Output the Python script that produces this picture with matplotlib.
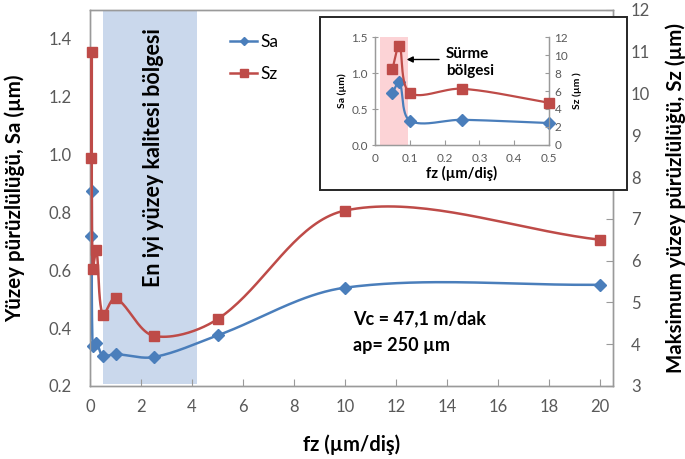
import numpy as np
import matplotlib
matplotlib.use("Agg")
import matplotlib.pyplot as plt
from matplotlib.lines import Line2D
from matplotlib.patches import Rectangle

plt.rcParams['font.family'] = ['Lato', 'DejaVu Sans']

# ---- data ----
fz = [0.05, 0.07, 0.1, 0.25, 0.5, 1, 2.5, 5, 10, 20]
sa = [0.72, 0.875, 0.34, 0.35, 0.305, 0.31, 0.30, 0.375, 0.54, 0.55]
sz = [8.45, 11.0, 5.8, 6.25, 4.7, 5.1, 4.2, 4.6, 7.2, 6.5]
inset_n = 5  # first five feeds shown in the inset

main_xticks = [0, 2, 4, 6, 8, 10, 12, 14, 16, 18, 20]
sa_ticks = [0.2, 0.4, 0.6, 0.8, 1.0, 1.2, 1.4]
sz_ticks = [3, 4, 5, 6, 7, 8, 9, 10, 11, 12]
in_xticks = [0, 0.1, 0.2, 0.3, 0.4, 0.5]
in_sa_ticks = [0.0, 0.5, 1.0, 1.5]
in_sz_ticks = [0, 2, 4, 6, 8, 10, 12]
best_zone = (0.5, 4.2)
slide_zone = (0.015, 0.095)

BLUE = '#4a7ebb'
RED = '#be4b48'
GRAY = '#595959'
SPINE = '#9a9a9a'


def excel_smooth(ax, x, y, n=40):
    pts = ax.transData.transform(np.column_stack([x, y]))
    P = np.vstack([pts[0], pts, pts[-1]])
    segs = []
    t = np.linspace(0, 1, n)[:, None]
    for i in range(1, len(P) - 2):
        p0, p1, p2, p3 = P[i - 1], P[i], P[i + 1], P[i + 2]
        d01 = np.hypot(*(p1 - p0))
        d12 = np.hypot(*(p2 - p1))
        d23 = np.hypot(*(p3 - p2))
        f1 = d12 / (d01 + d12) if d01 + d12 > 0 else 0.5
        f2 = d12 / (d12 + d23) if d12 + d23 > 0 else 0.5
        c1 = p1 + (p2 - p0) * f1 / 3.0
        c2 = p2 - (p3 - p1) * f2 / 3.0
        seg = (1 - t) ** 3 * p1 + 3 * (1 - t) ** 2 * t * c1 + 3 * (1 - t) * t ** 2 * c2 + t ** 3 * p2
        segs.append(seg)
    curve = np.vstack(segs)
    d = ax.transData.inverted().transform(curve)
    return d[:, 0], d[:, 1]


fig = plt.figure(figsize=(6.85, 4.59), dpi=100)
W, H = 685, 459
ax = fig.add_axes([90 / W, 1 - 386 / H, (613 - 90) / W, (386 - 10) / H])
ax2 = ax.twinx()

ax.set_xlim(0, 20.5)
ax.set_ylim(0.2, 1.5)
ax2.set_ylim(3, 12)

ax.set_xticks(main_xticks)
ax.set_yticks(sa_ticks)
ax.set_yticklabels([f'{v:.1f}' for v in sa_ticks])
ax2.set_yticks(sz_ticks)

for a in (ax, ax2):
    for s in a.spines.values():
        s.set_color(SPINE)
        s.set_linewidth(1.0)
ax.tick_params(axis='x', direction='in', length=5, color=SPINE, labelsize=12,
               labelcolor=GRAY, pad=9, top=False)
ax.tick_params(axis='y', length=0, labelsize=12, labelcolor=GRAY, pad=13)
ax2.tick_params(axis='y', direction='in', length=5, color=SPINE, labelsize=12,
                labelcolor=GRAY, pad=13)

ax.axvspan(best_zone[0], best_zone[1], ymin=0.005, ymax=1, color='#cad8ec', lw=0, zorder=0)

sx, sy = excel_smooth(ax, fz, sa)
ax.plot(sx, sy, color=BLUE, lw=1.8, zorder=3, clip_on=False)
ax.plot(fz, sa, ls='none', marker='D', ms=6, color=BLUE, zorder=4, clip_on=False)
zx, zy = excel_smooth(ax2, fz, sz)
ax2.plot(zx, zy, color=RED, lw=1.8, zorder=3, clip_on=False)
ax2.plot(fz, sz, ls='none', marker='s', ms=7.8, color=RED, zorder=4, clip_on=False)

ax.set_xlabel('fz (µm/diş)', fontsize=14.5, fontweight='bold')
ax.xaxis.set_label_coords(0.5, -0.13)
ax.set_ylabel('Yüzey pürüzlülüğü, Sa (µm)', fontsize=14.8, fontweight='bold')
ax.yaxis.set_label_coords(-0.124, 0.5)
ax2.set_ylabel('Maksimum yüzey pürüzlülüğü, Sz (µm)', fontsize=14.8, fontweight='bold')
ax2.yaxis.set_label_coords(1.100, 0.5)

ax.text(2.47, 0.99, 'En iyi yüzey kalitesi bölgesi', rotation=90, ha='center', va='center',
        fontsize=15.5, fontweight='bold', zorder=5)
ax.text(10.3, 0.434, 'Vc = 47,1 m/dak', fontsize=13, fontweight='bold', va='center')
ax.text(10.3, 0.340, 'ap= 250 µm', fontsize=13, fontweight='bold', va='center')

handles = [Line2D([], [], color=BLUE, lw=1.8, marker='D', ms=4.5),
           Line2D([], [], color=RED, lw=1.8, marker='s', ms=6)]
leg = ax2.legend(handles, ['Sa', 'Sz'], loc='center left', frameon=False, fontsize=12.5,
                 handlelength=1.6, handletextpad=0.2, labelspacing=0.9,
                 bbox_to_anchor=(214 / W, 1 - 58 / H), bbox_transform=fig.transFigure)

# ---- inset ----
box = Rectangle((320 / W, 1 - 190 / H), (627 - 320) / W, (190 - 17) / H,
                transform=fig.transFigure, facecolor='white', edgecolor='#262626',
                lw=1.4, zorder=5)
fig.patches.append(box)

ia = fig.add_axes([375 / W, 1 - 145 / H, (549 - 375) / W, (145 - 37) / H])
ia.set_zorder(6)
ia2 = ia.twinx()
ia2.set_zorder(7)
ia.set_xlim(0, 0.5)
ia.set_ylim(0, 1.5)
ia2.set_ylim(0, 12)
ia.set_xticks(in_xticks)
ia.set_xticklabels(['0'] + [f'{v:.1f}' for v in in_xticks[1:]])
ia.set_yticks(in_sa_ticks)
ia.set_yticklabels([f'{v:.1f}' for v in in_sa_ticks])
ia2.set_yticks(in_sz_ticks)
for a in (ia, ia2):
    for s in a.spines.values():
        s.set_color(SPINE)
        s.set_linewidth(0.9)
    a.spines['top'].set_visible(False)
ia.tick_params(axis='x', direction='in', length=3.5, color=SPINE, labelsize=8.5,
               labelcolor=GRAY, pad=6)
ia.tick_params(axis='y', direction='inout', length=4, color=SPINE, labelsize=8.5,
               labelcolor=GRAY, pad=3)
ia2.tick_params(axis='y', direction='in', length=3, color=SPINE, labelsize=8.5,
                labelcolor=GRAY, pad=4)

ia.axvspan(slide_zone[0], slide_zone[1], color='#fcd3d6', lw=0, zorder=0)

ix, iy = excel_smooth(ia, fz[:inset_n], sa[:inset_n])
ia.plot(ix, iy, color=BLUE, lw=1.6, zorder=3, clip_on=False)
ia.plot(fz[:inset_n], sa[:inset_n], ls='none', marker='D', ms=6, color=BLUE, zorder=4, clip_on=False)
jx, jy = excel_smooth(ia2, fz[:inset_n], sz[:inset_n])
ia2.plot(jx, jy, color=RED, lw=1.6, zorder=3, clip_on=False)
ia2.plot(fz[:inset_n], sz[:inset_n], ls='none', marker='s', ms=7, color=RED, zorder=4, clip_on=False)

ia.set_xlabel('fz (µm/diş)', fontsize=10.5, fontweight='bold', labelpad=1)
ia.set_ylabel('Sa (µm)', fontsize=7.5, fontweight='bold', labelpad=3)
ia2.set_ylabel('Sz (µm )', fontsize=7.5, fontweight='bold', labelpad=3)

ia2.annotate('', xy=(0.083, 9.5), xytext=(0.192, 9.5),
             arrowprops=dict(arrowstyle='-|>', color='black', lw=1.0, mutation_scale=9))
ia2.text(0.203, 9.15, 'Sürme\nbölgesi', fontsize=11, fontweight='bold', ha='left', va='center',
         linespacing=1.25)

fig.savefig('out.png', dpi=100)
